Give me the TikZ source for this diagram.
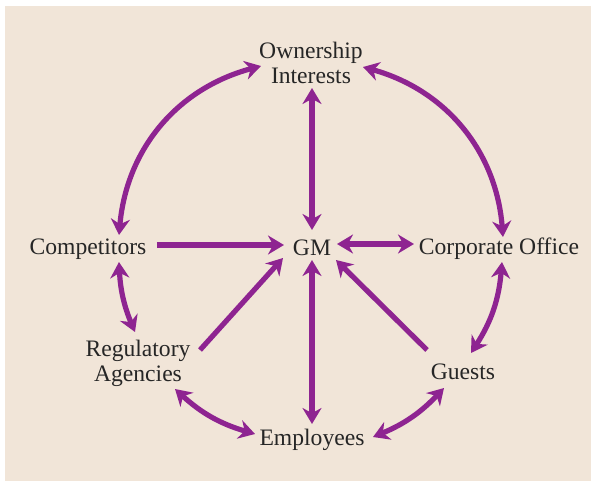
\documentclass[tikz,border=0pt]{standalone}
\usepackage{fontspec}
\setmainfont{Liberation Serif}
\usetikzlibrary{arrows.meta}
\definecolor{bgbeige}{RGB}{241,229,216}
\definecolor{arrowpurple}{RGB}{142,36,145}
\tikzset{
  lbl/.style={inner sep=0pt, align=center, font=\fontsize{11.8}{12.5}\selectfont, text=black!85},
  link/.style={draw=arrowpurple, line width=2.6pt},
  tip/.style={-{Stealth[length=8pt,width=9.5pt,inset=2.6pt]}},
  tips/.style={{Stealth[length=8pt,width=9.5pt,inset=2.6pt]}-{Stealth[length=8pt,width=9.5pt,inset=2.6pt]}}
}
\begin{document}
\begin{tikzpicture}[x=0.5pt,y=-0.5pt]
\useasboundingbox (0,0) rectangle (591,483);
\fill[bgbeige] (5,6) rectangle (591,481);
\node[lbl] (own) at (311,63) {Ownership\\Interests};
\node[lbl] (gm) at (312,248) {GM};
\node[lbl] (comp) at (88,249) {Competitors};
\node[lbl] (corp) at (499,249) {Corporate Office};
\node[lbl] (reg) at (138,363) {Regulatory\\Agencies};
\node[lbl] (guest) at (463,372) {Guests};
\node[lbl] (emp) at (312,440) {Employees};
% straight links
\draw[link,tips] ([shift={(1,25)}]own.center) -- ([shift={(0,-18)}]gm.center);
\draw[link,tip] ([shift={(69,-4)}]comp.center) -- ([shift={(-28,-3)}]gm.center);
\draw[link,tips] ([shift={(25,-4)}]gm.center) -- ([shift={(-85,-5)}]corp.center);
\draw[link,tip] ([shift={(62,-13)}]reg.center) -- ([shift={(-29,10)}]gm.center);
\draw[link,tip] ([shift={(-36,-22)}]guest.center) -- ([shift={(24,12)}]gm.center);
\draw[link,tips] ([shift={(0,12)}]gm.center) -- ([shift={(0,-16)}]emp.center);
% outer arcs
\draw[link,tips] ([shift={(-50,3)}]own.center) to[bend right=35] ([shift={(31,-14)}]comp.center);
\draw[link,tips] ([shift={(52,4)}]own.center) to[bend left=35] ([shift={(4,-12)}]corp.center);
\draw[link,tips] ([shift={(31,13)}]comp.center) to[bend right=10] ([shift={(-3,-31)}]reg.center);
\draw[link,tips] ([shift={(3,13)}]corp.center) to[bend left=14] ([shift={(8,-19)}]guest.center);
\draw[link,tips] ([shift={(37,26)}]reg.center) to[bend right=13] ([shift={(-57,-6)}]emp.center);
\draw[link,tips] ([shift={(61,-3)}]emp.center) to[bend right=12] ([shift={(-19,16)}]guest.center);
\end{tikzpicture}
\end{document}
